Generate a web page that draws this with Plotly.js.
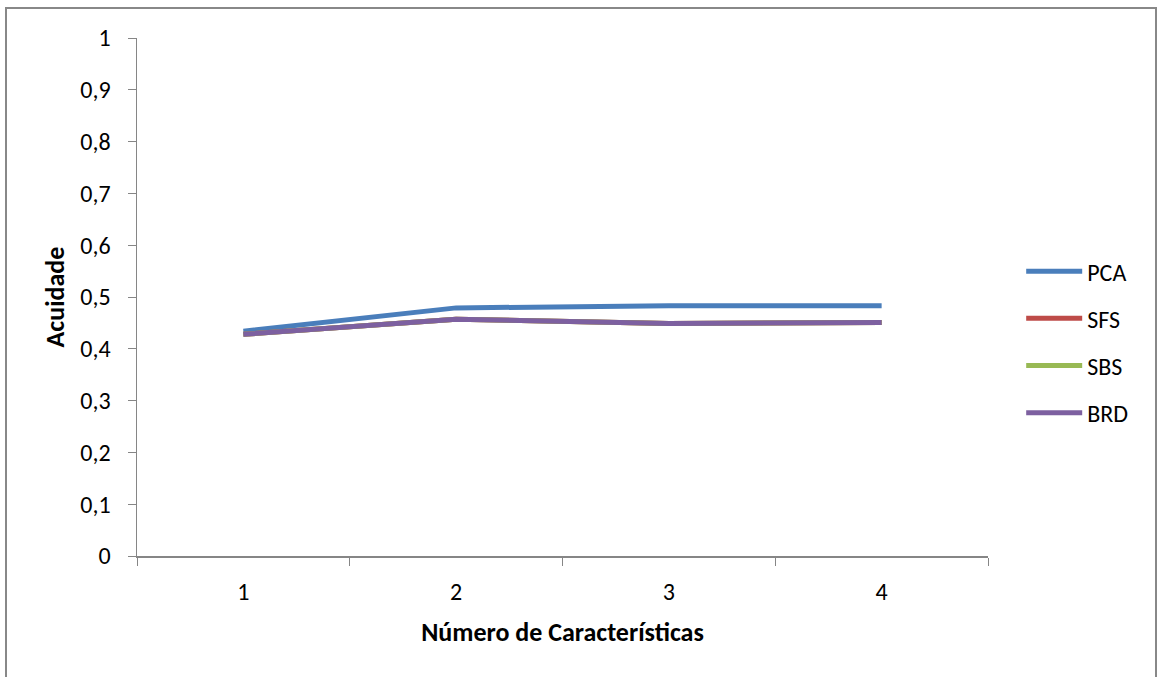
<!DOCTYPE html>
<html><head><meta charset="utf-8">
<script src="https://cdn.plot.ly/plotly-3.0.1.min.js"></script>
<style>
html,body{margin:0;padding:0;background:#fff;}
#wrap{position:relative;width:1160px;height:677px;}
#chart{width:1160px;height:677px;}
#frame{position:absolute;left:5px;top:7px;width:1152px;height:680px;border:2px solid #888;pointer-events:none;box-sizing:border-box;}
</style></head>
<body>
<div id="wrap"><div id="chart"></div><div id="frame"></div></div>
<script>
var categories = ["1", "2", "3", "4"];
var seriesNames = ["PCA", "SFS", "SBS", "BRD"];
var pca = [0.434, 0.479, 0.483, 0.483];
var sfs = [0.428, 0.457, 0.449, 0.451];
var sbs = [0.428, 0.457, 0.449, 0.451];
var brd = [0.428, 0.457, 0.449, 0.451];
var yTickVals = [0, 0.1, 0.2, 0.3, 0.4, 0.5, 0.6, 0.7, 0.8, 0.9, 1];
var yTickText = ["0", "0,1", "0,2", "0,3", "0,4", "0,5", "0,6", "0,7", "0,8", "0,9", "1"];
var colors = ["#4a7ebb", "#be4b48", "#98b954", "#7d60a0"];
var values = [pca, sfs, sbs, brd];

var font = "Carlito, Calibri, 'Open Sans', 'Liberation Sans', sans-serif";
var traces = values.map(function (v, i) {
  return {
    x: categories, y: v, name: seriesNames[i], type: "scatter", mode: "lines",
    legendgroup: "g" + i,
    line: {color: colors[i], width: 5}
  };
});

var layout = {
  width: 1160, height: 677,
  margin: {l: 137, r: 172, t: 38, b: 121},
  paper_bgcolor: "#fff", plot_bgcolor: "#fff",
  font: {family: font, size: 24, color: "#000"},
  showlegend: true,
  legend: {x: 1.039, y: 0.413, xanchor: "left", yanchor: "middle",
    font: {family: font, size: 24, color: "#000"}, tracegroupgap: 13,
    itemwidth: 56, bgcolor: "rgba(0,0,0,0)"},
  xaxis: {
    type: "category", tickson: "boundaries", ticks: "outside", ticklen: 8,
    tickcolor: "#868686", showline: true, linecolor: "#868686", linewidth: 1.5,
    showgrid: false, zeroline: false, range: [-0.5, 3.5],
    tickfont: {family: font, size: 24}, ticklabelstandoff: 14,
    title: {text: "Número de Características", font: {family: font, size: 26, weight: "bold"}, standoff: 17}
  },
  yaxis: {
    range: [0, 1], tickvals: yTickVals, ticktext: yTickText, ticks: "outside", ticklen: 8,
    tickcolor: "#868686", showline: true, linecolor: "#868686", linewidth: 1.5,
    showgrid: false, zeroline: false, tickfont: {family: font, size: 24}, ticklabelstandoff: 12,
    title: {text: "Acuidade", font: {family: font, size: 26, weight: "bold"}, standoff: 8}
  }
};
Plotly.newPlot("chart", traces, layout, {displayModeBar: false, staticPlot: true});
</script>
</body></html>
